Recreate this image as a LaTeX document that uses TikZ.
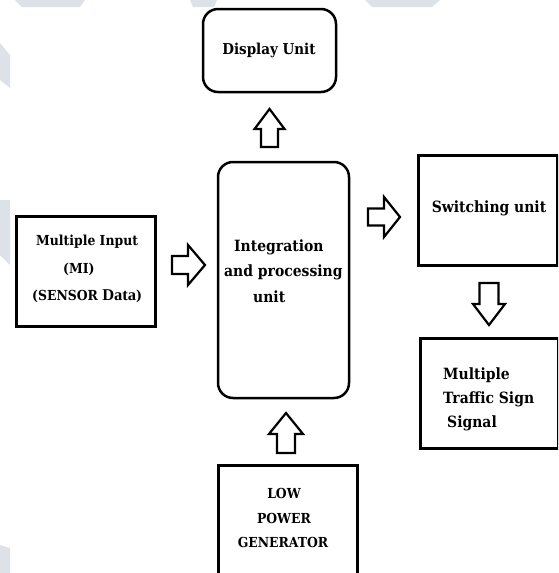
\documentclass[tikz,border=0pt]{standalone}
\usepackage{fontspec}
\newfontfamily\slab{DejaVu Serif Condensed}
\newfontfamily\cambr{Liberation Serif}
\definecolor{wm}{HTML}{DDE2E8}
\tikzset{
  box/.style={draw=black, line width=3pt, inner sep=0pt},
  rbox/.style={draw=black, line width=2.5pt, rounded corners=15pt, inner sep=0pt},
  lbl/.style={font=\slab\bfseries\fontsize{15.5}{18}\selectfont, inner sep=0pt, anchor=west},
  lblsm/.style={lbl, font=\slab\bfseries\fontsize{13.8}{16}\selectfont},
  barrow/.style={draw=black, line width=2.2pt, fill=white, line join=miter},
}
% \barr{x}{y}{angle}{length}{headlen}{headhalf}{shafthalf}
\newcommand\barr[7]{%
  \draw[barrow, shift={(#1,#2)}, rotate=#3]
    (0,-#7) -- ({#4-#5},-#7) -- ({#4-#5},-#6) -- (#4,0) -- ({#4-#5},#6) -- ({#4-#5},#7) -- (0,#7) -- cycle;}
\begin{document}
\begin{tikzpicture}[x=1pt,y=-1pt]
\useasboundingbox (0,0) rectangle (558,573);
\clip (0,0) rectangle (558,573);
% faint watermark
\fill[wm] (15,0) -- (85,0) -- (80,7) -- (22,7) -- cycle;
\fill[wm] (190,0) -- (217,0) -- (214,7) -- (193,7) -- cycle;
\fill[wm] (365,0) -- (440,0) -- (432,7) -- (372,7) -- cycle;
\fill[wm] (0,43) -- (10,55) -- (10,88) -- (0,80) -- cycle;
\fill[wm] (0,200) -- (10,200) -- (10,265) -- (0,255) -- cycle;
\fill[wm] (0,545) -- (10,548) -- (10,573) -- (0,573) -- cycle;
% boxes
\node[rbox, minimum width=133pt, minimum height=83pt] (disp) at (269.5,50.5) {};
\node[rbox, minimum width=131pt, minimum height=236pt] (integ) at (283.5,280) {};
\node[box, minimum width=139pt, minimum height=110pt] (mi) at (85.5,271) {};
\node[box, minimum width=139pt, minimum height=110pt] (sw) at (487.5,210) {};
\node[box, minimum width=138pt, minimum height=110pt] (mts) at (489,393) {};
\node[box, minimum width=139pt, minimum height=110pt] (lpg) at (287.5,520) {};
% texts
\node[lbl, anchor=center, font=\slab\bfseries\fontsize{15}{18}\selectfont] (tdisp) at (269,50) {Display Unit};
\node[lbl] (tint1) at (234,247) {Integration};
\node[lbl] (tint2) at (224,272) {and processing};
\node[lbl] (tint3) at (253,297) {unit};
\node[lblsm] (tmi1) at (36,242) {Multiple Input};
\node[lblsm] (tmi2) at (63,269) {(MI)};
\node[lblsm] (tmi3) at (32,296) {(SENSOR {\cambr\fontsize{16.5}{18}\selectfont Data})};
\node[lbl, anchor=center] (tsw) at (489,208) {Switching unit};
\node[lbl] (tm1) at (443,375) {Multiple};
\node[lbl] (tm2) at (443,399) {Traffic Sign};
\node[lbl] (tm3) at (447,423) {Signal};
\node[lblsm, anchor=center] (tl1) at (284,493) {LOW};
\node[lblsm, anchor=center] (tl2) at (284,518) {POWER};
\node[lblsm, anchor=center] (tl3) at (283,542) {GENERATOR};
% block arrows
\barr{172}{265}{0}{33}{17}{20}{9}
\barr{368}{217}{0}{32}{16}{20}{8.5}
\barr{269.5}{147}{90}{38}{20}{15}{8.5}
\barr{489}{283}{-90}{42}{21}{16}{9.5}
\barr{286}{453}{90}{40}{21}{17}{9}
\end{tikzpicture}
\end{document}
